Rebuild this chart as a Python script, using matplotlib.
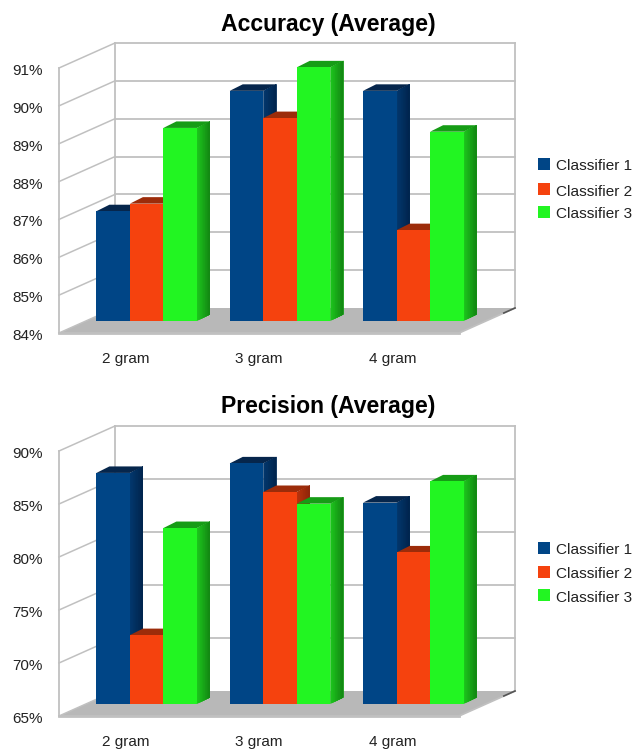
import numpy as np
import matplotlib
matplotlib.use("Agg")
import matplotlib.pyplot as plt
from matplotlib.patches import Polygon
from matplotlib.transforms import Affine2D

plt.rcParams['font.family'] = ['Liberation Sans', 'DejaVu Sans']

categories = ['2 gram', '3 gram', '4 gram']
series_names = ['Classifier 1', 'Classifier 2', 'Classifier 3']
accuracy_c1 = [86.9, 90.08, 90.08]
accuracy_c2 = [87.1, 89.36, 86.4]
accuracy_c3 = [89.1, 90.7, 89.0]
precision_c1 = [86.8, 87.7, 84.0]
precision_c2 = [71.5, 85.0, 79.3]
precision_c3 = [81.6, 83.9, 86.0]
accuracy_ticks = [84, 85, 86, 87, 88, 89, 90, 91]
precision_ticks = [65, 70, 75, 80, 85, 90]

FRONT = ['#004586', '#f5420e', '#22f522']
SIDE = [('#02376c', '#00224a'), ('#b8320c', '#8a2408'), ('#1cc41c', '#128012')]
TOP = ['#06264c', '#9c2c0a', '#169c16']
GRID = '#c0c0c0'
TEXT = '#222222'
W, H = 638, 751


def panel(bottom_px, top_px, ticks, values, title, title_y, legend_y):
    left, right = 59, 459
    ax = plt.axes([left / W, 1 - bottom_px / H, (right - left) / W, (bottom_px - top_px) / H])
    ymin, ymax = ticks[0], ticks[-1]
    ax.set_xlim(-0.5, 2.5)
    ax.set_ylim(ymin, ymax)
    px_x = 3 / (right - left)
    px_y = (ymax - ymin) / (bottom_px - top_px)

    def off(x, y, dx, dy):
        return (x + dx * px_x, y + dy * px_y)

    wx, wy = 56, 25
    xa, xb = -0.5, 2.5
    # floor
    floor = [off(xa, ymin, 0, 0), off(xa, ymin, wx, wy), off(xb, ymin, wx, wy), off(xb, ymin, 0, 0)]
    ax.add_patch(Polygon(floor, closed=True, fc='#b8b8b8', ec='none', zorder=1, clip_on=False))
    # walls and gridlines
    for t in ticks:
        p0 = off(xa, t, 0, 0); p1 = off(xa, t, wx, wy); p2 = off(xb, t, wx, wy)
        ax.plot([p0[0], p1[0]], [p0[1], p1[1]], color=GRID, lw=1.1, zorder=1, clip_on=False)
        if t != ymin:
            ax.plot([p1[0], p2[0]], [p1[1], p2[1]], color=GRID, lw=1.3, zorder=1, clip_on=False)
    for dx, dy, xv in [(0, 0, xa), (wx, wy, xa), (wx, wy, xb)]:
        a = off(xv, ymin, dx, dy); b = off(xv, ymax, dx, dy)
        ax.plot([a[0], b[0]], [a[1], b[1]], color=GRID, lw=1.3, zorder=1, clip_on=False)
    ax.plot([xa, xb], [ymin, ymin], color=GRID, lw=2, zorder=1.2, clip_on=False)
    e0 = off(xb, ymin, 0, 0); e1 = off(xb, ymin, wx, wy)
    ax.plot([e0[0], e1[0]], [e0[1], e1[1]], color=GRID, lw=1.3, zorder=1.2, clip_on=False)
    m0 = off(xb, ymin, wx * 0.8, wy * 0.8)
    ax.plot([m0[0], e1[0]], [m0[1], e1[1]], color='#555555', lw=1.2, zorder=1.3, clip_on=False)

    # bars
    bw = 33.5 * px_x
    sx, sy = 21, 12
    dx, dy = 13, 6.5
    z = 2.0
    for i in range(len(categories)):
        for s in range(3):
            x0 = i + (s - 1.5) * bw + sx * px_x
            x1 = x0 + bw
            y0 = ymin + sy * px_y
            top = values[s][i] + sy * px_y
            c0 = np.array(matplotlib.colors.to_rgb(SIDE[s][0]))
            c1 = np.array(matplotlib.colors.to_rgb(SIDE[s][1]))
            n = 8
            for k in range(n):
                f0 = k / n
                col = c0 + (c1 - c0) * f0
                # each strip runs to the far edge, so no seams appear between strips
                ax.add_patch(Polygon([off(x1, y0, dx * f0, dy * f0), off(x1, y0, dx, dy),
                                      off(x1, top, dx, dy), off(x1, top, dx * f0, dy * f0)],
                                     closed=True, fc=col, ec='none', zorder=z + k * 0.01, clip_on=False))
            ax.add_patch(Polygon([off(x0, top, 0, 0), off(x0, top, dx, dy), off(x1, top, dx, dy), off(x1, top, 0, 0)],
                                 closed=True, fc=TOP[s], ec='none', zorder=z + 0.1, clip_on=False))
            ax.add_patch(Polygon([(x0, y0), (x0, top), (x1, top), (x1, y0)],
                                 closed=True, fc=FRONT[s], ec='none', zorder=z + 0.2, clip_on=False))
            z += 0.5

    for sp in ax.spines.values():
        sp.set_visible(False)
    ax.patch.set_alpha(0)
    ax.set_xticks(range(3))
    ax.set_xticklabels(categories)
    ax.set_yticks(ticks)
    ax.set_yticklabels([f'{t}%' for t in ticks])
    ax.tick_params(axis='x', length=0, pad=13.5, labelsize=11, labelcolor=TEXT)
    ax.tick_params(axis='y', length=0, pad=11.5, labelsize=11, labelcolor=TEXT)
    for lab in ax.get_yticklabels():
        lab.set_transform(lab.get_transform() + Affine2D().translate(0, -1.5))
    fig.text(328 / W, 1 - title_y / H, title, ha='center', va='center', fontsize=16.6, fontweight='bold', color='black')

    for s in range(3):
        yy = legend_y[s]
        fig.add_artist(plt.Rectangle((538 / W, 1 - (yy + 5) / H), 12 / W, 12 / H, transform=fig.transFigure,
                                     fc=FRONT[s], ec='none'))
        fig.text(556 / W, 1 - (yy + 1.5) / H, series_names[s], ha='left', va='center', fontsize=11.1, color=TEXT)


fig = plt.figure(figsize=(W / 100, H / 100), dpi=100, facecolor='white')
panel(333, 68, accuracy_ticks, [accuracy_c1, accuracy_c2, accuracy_c3], 'Accuracy (Average)', 24, [165, 190, 213])
panel(716, 451, precision_ticks, [precision_c1, precision_c2, precision_c3], 'Precision (Average)', 406, [549, 573, 596])
fig.savefig('out.png', dpi=100)
